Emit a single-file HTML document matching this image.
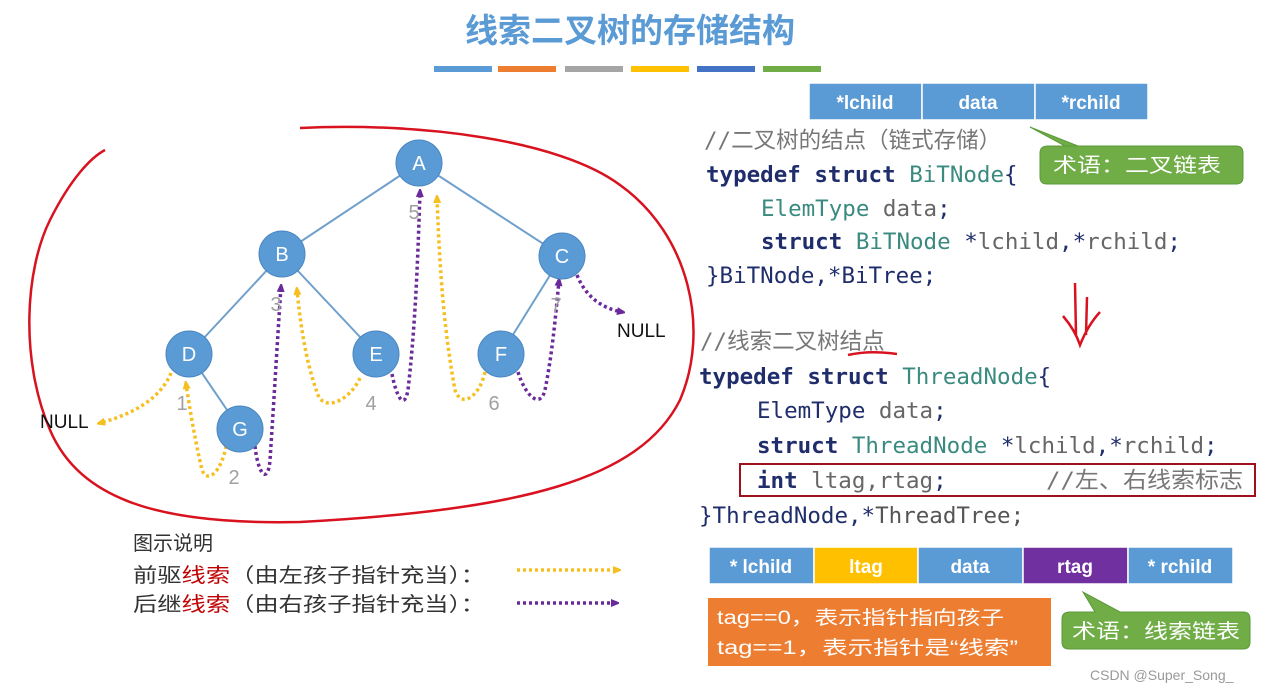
<!DOCTYPE html>
<html><head><meta charset="utf-8"><style>
html,body{margin:0;padding:0;background:#fff;}
svg{display:block;}
.cn{font-family:"Liberation Sans","Noto Sans CJK SC",sans-serif;}
.code{font-family:"DejaVu Sans Mono","Liberation Mono","Noto Sans CJK SC",monospace;font-size:22.5px;}
</style></head><body>
<svg width="1263" height="693" viewBox="0 0 1263 693" xmlns="http://www.w3.org/2000/svg">
<defs>
<marker id="ay" markerWidth="8" markerHeight="8" refX="5" refY="4" orient="auto" markerUnits="userSpaceOnUse"><path d="M0,0 L10,4 L0,8z" fill="#f5bf20"/></marker>
<marker id="ap" markerWidth="8" markerHeight="8" refX="5" refY="4" orient="auto" markerUnits="userSpaceOnUse"><path d="M0,0 L10,4 L0,8z" fill="#6a2a9a"/></marker>
</defs>
<text x="630" y="42" text-anchor="middle" class="cn" font-size="33" font-weight="bold" fill="#5b9bd5">线索二叉树的存储结构</text>
<rect x="434" y="66" width="58" height="6" fill="#5b9bd5"/>
<rect x="498" y="66" width="58" height="6" fill="#ed7d31"/>
<rect x="565" y="66" width="58" height="6" fill="#a5a5a5"/>
<rect x="631" y="66" width="58" height="6" fill="#ffc000"/>
<rect x="697" y="66" width="58" height="6" fill="#4472c4"/>
<rect x="763" y="66" width="58" height="6" fill="#70ad47"/>

<path d="M300,128 C420,122 560,140 620,185 C690,235 710,330 680,400 C640,480 520,510 300,522 C160,525 80,500 50,430 C20,360 25,270 50,220 C70,180 90,158 105,150" fill="none" stroke="#d8121f" stroke-width="2.5"/>

<g stroke="#6fa0cc" stroke-width="2">
<line x1="419" y1="163" x2="282" y2="254"/><line x1="419" y1="163" x2="562" y2="256"/>
<line x1="282" y1="254" x2="189" y2="354"/><line x1="282" y1="254" x2="376" y2="354"/>
<line x1="562" y1="256" x2="501" y2="354"/><line x1="189" y1="354" x2="240" y2="429"/>
</g>
<g fill="none" stroke-width="3.5" stroke-dasharray="3,3">
<path d="M171,373 C160,400 130,415 100,423" stroke="#f5bf20" marker-end="url(#ay)"/>
<path d="M226,446 C222,470 208,485 202,470 C195,440 190,410 186,384" stroke="#f5bf20" marker-end="url(#ay)"/>
<path d="M255,446 C258,475 268,485 270,460 C274,400 278,330 281,287" stroke="#6a2a9a" marker-end="url(#ap)"/>
<path d="M360,378 C350,400 325,412 318,395 C305,360 300,320 297,290" stroke="#f5bf20" marker-end="url(#ay)"/>
<path d="M392,374 C396,395 404,412 408,390 C416,320 418,250 420,192" stroke="#6a2a9a" marker-end="url(#ap)"/>
<path d="M485,372 C480,395 462,410 455,390 C442,320 439,250 437,198" stroke="#f5bf20" marker-end="url(#ay)"/>
<path d="M518,372 C525,395 540,410 545,390 C553,350 556,310 559,281" stroke="#6a2a9a" marker-end="url(#ap)"/>
<path d="M577,275 C585,295 600,308 622,312" stroke="#6a2a9a" marker-end="url(#ap)"/>
</g>
<g fill="#5b9bd5" stroke="#4a86c0" stroke-width="1">
<circle cx="419" cy="163" r="23"/><circle cx="282" cy="254" r="23"/><circle cx="562" cy="256" r="23"/>
<circle cx="189" cy="354" r="23"/><circle cx="376" cy="354" r="23"/><circle cx="501" cy="354" r="23"/><circle cx="240" cy="429" r="23"/>
</g>
<g class="cn" font-size="20" fill="#fff" text-anchor="middle">
<text x="419" y="170">A</text><text x="282" y="261">B</text><text x="562" y="263">C</text>
<text x="189" y="361">D</text><text x="376" y="361">E</text><text x="501" y="361">F</text><text x="240" y="436">G</text>
</g>
<g class="cn" font-size="20" fill="#a0a0a0" text-anchor="middle">
<text x="182" y="410">1</text><text x="234" y="484">2</text><text x="276" y="311">3</text><text x="371" y="410">4</text>
<text x="414" y="219">5</text><text x="494" y="410">6</text><text x="556" y="312">7</text>
</g>
<g class="cn" font-size="19" fill="#111">
<text x="40" y="428">NULL</text><text x="617" y="337">NULL</text>
</g>

<g class="cn" font-size="20" fill="#333">
<text x="133" y="550">图示说明</text>
<text x="133" y="582" textLength="352" lengthAdjust="spacingAndGlyphs">前驱<tspan fill="#c00000">线索</tspan>（由左孩子指针充当）：</text>
<text x="133" y="611" textLength="352" lengthAdjust="spacingAndGlyphs">后继<tspan fill="#c00000">线索</tspan>（由右孩子指针充当）：</text>
</g>
<line x1="517" y1="570" x2="618" y2="570" stroke="#f5bf20" stroke-width="3.5" stroke-dasharray="3,3" marker-end="url(#ay)"/>
<line x1="517" y1="603" x2="616" y2="603" stroke="#6a2a9a" stroke-width="3.5" stroke-dasharray="3,3" marker-end="url(#ap)"/>

<g stroke="#fff" stroke-width="1.5">
<rect x="809" y="83" width="113" height="37" fill="#5b9bd5"/>
<rect x="922" y="83" width="113" height="37" fill="#5b9bd5"/>
<rect x="1035" y="83" width="113" height="37" fill="#5b9bd5"/>
</g>
<g class="cn" font-size="19" font-weight="bold" fill="#fff" text-anchor="middle">
<text x="865" y="109">*lchild</text><text x="978" y="109">data</text><text x="1091" y="109">*rchild</text>
</g>
<path d="M1048,146 L1078,146 L1030,127 L1065,146 L1236,146 Q1243,146 1243,153 L1243,177 Q1243,184 1236,184 L1047,184 Q1040,184 1040,177 L1040,153 Q1040,146 1048,146z" fill="#70ad47" stroke="#5a9a3a"/>
<text x="1053" y="172" class="cn" font-size="20" fill="#fff" textLength="168" lengthAdjust="spacingAndGlyphs">术语：二叉链表</text>

<g class="code">
<text x="704" y="148" fill="#777">//二叉树的结点（链式存储）</text>
<text x="706" y="182"><tspan fill="#1f2d6b" font-weight="bold">typedef struct</tspan><tspan fill="#3a8a80"> BiTNode</tspan><tspan fill="#1f2d6b">{</tspan></text>
<text x="761" y="216"><tspan fill="#3a8a80">ElemType</tspan><tspan fill="#666"> data</tspan><tspan fill="#1f2d6b">;</tspan></text>
<text x="761" y="249"><tspan fill="#1f2d6b" font-weight="bold">struct</tspan><tspan fill="#3a8a80"> BiTNode</tspan><tspan fill="#1f2d6b">  *</tspan><tspan fill="#666">lchild</tspan><tspan fill="#1f2d6b">,*</tspan><tspan fill="#666">rchild</tspan><tspan fill="#1f2d6b">;</tspan></text>
<text x="706" y="283" fill="#1f2d6b">}BiTNode,*BiTree;</text>
<text x="700" y="349" fill="#777">//线索二叉树结点</text>
<text x="699" y="384"><tspan fill="#1f2d6b" font-weight="bold">typedef struct</tspan><tspan fill="#3a8a80"> ThreadNode</tspan><tspan fill="#1f2d6b">{</tspan></text>
<text x="757" y="418"><tspan fill="#1f2d6b">ElemType</tspan><tspan fill="#666"> data</tspan><tspan fill="#1f2d6b">;</tspan></text>
<text x="757" y="453"><tspan fill="#1f2d6b" font-weight="bold">struct</tspan><tspan fill="#3a8a80"> ThreadNode</tspan><tspan fill="#1f2d6b"> *</tspan><tspan fill="#666">lchild</tspan><tspan fill="#1f2d6b">,*</tspan><tspan fill="#666">rchild</tspan><tspan fill="#1f2d6b">;</tspan></text>
<text x="757" y="488"><tspan fill="#1f2d6b" font-weight="bold">int</tspan><tspan fill="#666"> ltag,rtag</tspan><tspan fill="#1f2d6b">;</tspan></text>
<text x="1046" y="488" fill="#777" textLength="197" lengthAdjust="spacingAndGlyphs">//左、右线索标志</text>
<text x="699" y="523"><tspan fill="#1f2d6b">}ThreadNode,*</tspan><tspan fill="#555">ThreadTree;</tspan></text>
</g>
<path d="M848,355 Q870,350 897,354" stroke="#d8121f" stroke-width="2.5" fill="none"/>
<rect x="740" y="464" width="515" height="32" fill="none" stroke="#a0101a" stroke-width="2"/>
<path d="M1075,283 L1076,335 M1087,297 L1086,335 M1063,316 Q1075,330 1080,345 Q1088,325 1100,312" stroke="#d8121f" stroke-width="2.5" fill="none"/>

<g stroke="#fff" stroke-width="1.5">
<rect x="709" y="547" width="105" height="37" fill="#5b9bd5"/>
<rect x="814" y="547" width="104" height="37" fill="#ffc000"/>
<rect x="918" y="547" width="105" height="37" fill="#5b9bd5"/>
<rect x="1023" y="547" width="105" height="37" fill="#7030a0"/>
<rect x="1128" y="547" width="105" height="37" fill="#5b9bd5"/>
</g>
<g class="cn" font-size="19" font-weight="bold" fill="#fff" text-anchor="middle">
<text x="761" y="573">* lchild</text><text x="866" y="573">ltag</text><text x="970" y="573">data</text><text x="1075" y="573">rtag</text><text x="1180" y="573">* rchild</text>
</g>
<rect x="708" y="598" width="343" height="68" fill="#ed7d31"/>
<g class="cn" font-size="19" fill="#fff">
<text x="717" y="624" textLength="287" lengthAdjust="spacingAndGlyphs">tag==0，表示指针指向孩子</text>
<text x="717" y="654" textLength="301" lengthAdjust="spacingAndGlyphs">tag==1，表示指针是“线索”</text>
</g>
<path d="M1070,612 L1095,612 L1083,592 L1120,612 L1243,612 Q1250,612 1250,619 L1250,642 Q1250,649 1243,649 L1069,649 Q1062,649 1062,642 L1062,619 Q1062,612 1070,612z" fill="#70ad47" stroke="#5a9a3a"/>
<text x="1072" y="638" class="cn" font-size="20" fill="#fff" textLength="168" lengthAdjust="spacingAndGlyphs">术语：线索链表</text>
<text x="1090" y="680" class="cn" font-size="14" fill="#999">CSDN @Super_Song_</text>
</svg>
</body></html>
